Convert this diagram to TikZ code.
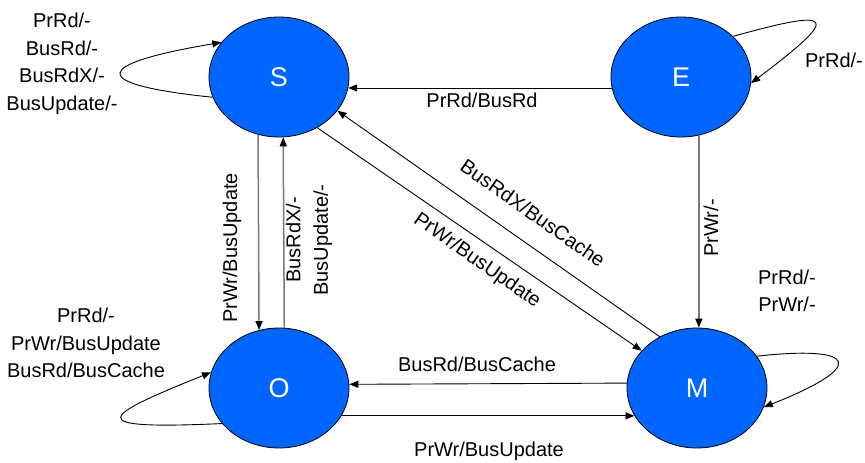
\documentclass[tikz,border=0pt]{standalone}
\usepackage{fontspec}
\setmainfont{Liberation Sans}
\usetikzlibrary{shapes.geometric,arrows.meta}
\definecolor{stblue}{RGB}{0,102,255}
\definecolor{edgegray}{RGB}{120,120,120}
\begin{document}
\begin{tikzpicture}[x=1pt,y=-1pt,
  state/.style={ellipse,draw=black,line width=0.8pt,fill=stblue,minimum width=140pt,minimum height=120pt,inner sep=0pt,text=white,font=\fontsize{27}{32}\selectfont},
  lbl/.style={font=\fontsize{20}{27.5}\selectfont,align=center,inner sep=0pt},
  tr/.style={draw=black,line width=0.9pt,-{Triangle[length=9pt,width=7pt]}},
  trg/.style={draw=edgegray,line width=1.5pt,-{Triangle[length=9pt,width=7pt,color=black]}}
]
\useasboundingbox (0,0) rectangle (865,463);

\node[state] (S) at (279,77) {S};
\node[state] (E) at (681,77) {E};
\node[state] (O) at (279,388) {O};
\node[state] (M) at (697,388) {M};

% self loops
\draw[tr] (S.197) .. controls (85,84) and (93,64) .. (S.149);
\draw[tr] (E.38) .. controls (835,8) and (843,14) .. (E.-5);
\draw[tr] (O.212) .. controls (80,430) and (100,417) .. (O.167);
\draw[tr] (M.28) .. controls (858,345) and (868,366) .. (M.-16);

% transitions
\draw[tr] (E.189.1) -- (S.-9.1);
\draw[trg] (E.-73.7) -- (E.-73.7 |- M.north);
\draw[trg] (S.250.8) -- (O.109.2);
\draw[trg] (O.85.2) -- (S.274.8);
\draw[tr] (M.126.2) -- (S.-30.1);
\draw[tr] (S.-53.1) -- (M.146.8);
\draw[tr] (M.176.7) -- (O.3.3);
\draw[tr] (O.-24.3) -- (M.204.3);

% labels
\node[lbl] (lS) at (62,64) {PrRd/-\\BusRd/-\\BusRdX/-\\BusUpdate/-};
\node[lbl] (lE) at (834,60) {PrRd/-};
\node[lbl] (lO) at (86,343) {PrRd/-\\PrWr/BusUpdate\\BusRd/BusCache};
\node[lbl] (lM) at (787,291) {PrRd/-\\PrWr/-};
\node[lbl] (lES) at (482,100) {PrRd/BusRd};
\node[lbl,rotate=90] (lEM) at (711,228) {PrWr/-};
\node[lbl,rotate=90] (lSO) at (232,248) {PrWr/BusUpdate};
\node[lbl,rotate=90] (lOS) at (309,240) {BusRdX/-\\BusUpdate/-};
\node[lbl,rotate=-35] (lMS) at (533,213) {BusRdX/BusCache};
\node[lbl,rotate=-35] (lSM) at (477,261) {PrWr/BusUpdate};
\node[lbl] (lMO) at (477,364) {BusRd/BusCache};
\node[lbl] (lOM) at (489,451) {PrWr/BusUpdate};
\end{tikzpicture}
\end{document}
